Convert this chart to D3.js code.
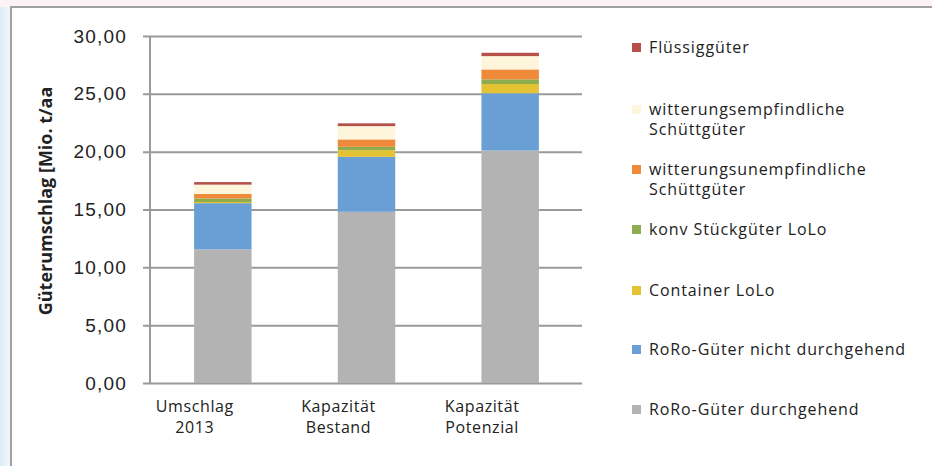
<!DOCTYPE html>
<html>
<head>
<meta charset="utf-8">
<script src="https://cdn.jsdelivr.net/npm/d3@7"></script>
<style>
  html, body { margin: 0; padding: 0; background: #fff; }
  svg { display: block; font-family: "Open Sans", "DejaVu Sans", sans-serif; }
</style>
</head>
<body>
<div id="chart"></div>
<script>
// Kategorien und Werte (Mio. t/aa), von unten nach oben gestapelt
const categories = [['Umschlag', '2013'], ['Kapazität', 'Bestand'], ['Kapazität', 'Potenzial']];
const seriesNames = [
  'RoRo-Güter durchgehend',
  'RoRo-Güter nicht durchgehend',
  'Container LoLo',
  'konv Stückgüter LoLo',
  'witterungsunempfindliche Schüttgüter',
  'witterungsempfindliche Schüttgüter',
  'Flüssiggüter'
];
const roroDurch = [11.55, 14.80, 20.10];
const roroNicht = [4.00, 4.75, 4.95];
const container = [0.10, 0.58, 0.80];
const konv = [0.30, 0.29, 0.40];
const unempf = [0.40, 0.64, 0.86];
const empf = [0.80, 1.15, 1.15];
const fluessig = [0.22, 0.24, 0.29];
const yTicks = [0, 5, 10, 15, 20, 25, 30];
const colors = ['#b3b3b3', '#6a9fd6', '#e3c234', '#8fac4e', '#ee8a3a', '#fdf6dc', '#b5504b'];

const W = 932, H = 466;
const svg = d3.select('#chart').append('svg').attr('width', W).attr('height', H);

// Hintergrund mit Rahmen
const defs = svg.append('defs');
const grad = defs.append('linearGradient').attr('id', 'bg').attr('x1', 0).attr('x2', 1);
grad.append('stop').attr('offset', 0).attr('stop-color', '#dcecf7');
grad.append('stop').attr('offset', 1).attr('stop-color', '#f4f9fd');
svg.append('rect').attr('width', W).attr('height', H).attr('fill', '#fff');
svg.append('rect').attr('width', 11).attr('height', H).attr('fill', 'url(#bg)');
svg.append('rect').attr('width', W).attr('height', 7).attr('fill', '#fdf2f5');
svg.append('line').attr('x1', 10).attr('x2', W).attr('y1', 7).attr('y2', 7)
  .attr('stroke', '#a0a0a0').attr('stroke-width', 2);
svg.append('line').attr('x1', 11).attr('x2', 11).attr('y1', 7).attr('y2', H)
  .attr('stroke', '#a0a0a0').attr('stroke-width', 2);

const x0 = 150, x1 = 582, yTop = 36, yBot = 383;
const x = d3.scaleBand().domain(d3.range(categories.length)).range([x0 + 1, x1]).paddingInner(0.6).paddingOuter(0.3);
const y = d3.scaleLinear().domain([0, 30]).range([yBot, yTop]);

// Gitternetz
const yAxis = d3.axisLeft(y).tickValues(yTicks).tickSize(-(x1 - x0)).tickPadding(23)
  .tickFormat(d => d3.format('.2f')(d).replace('.', ','));
const ga = svg.append('g').attr('transform', `translate(${x0},0)`).call(yAxis);
ga.select('.domain').remove();
ga.selectAll('.tick line').attr('stroke', '#9a9a9a').attr('stroke-width', 2).attr('x1', -7);
ga.selectAll('.tick text').attr('font-size', 19).attr('letter-spacing', '1.2px').attr('fill', '#222');

// Stapel
const table = categories.map((c, i) => ({
  i: i, s0: roroDurch[i], s1: roroNicht[i], s2: container[i], s3: konv[i], s4: unempf[i], s5: empf[i], s6: fluessig[i]
}));
const stack = d3.stack().keys(['s0', 's1', 's2', 's3', 's4', 's5', 's6'])(table);
svg.append('g').selectAll('g').data(stack).join('g')
  .attr('fill', (d, k) => colors[k])
  .selectAll('rect').data(d => d).join('rect')
  .attr('x', d => x(d.data.i))
  .attr('width', x.bandwidth())
  .attr('y', d => y(d[1]))
  .attr('height', d => y(d[0]) - y(d[1]));

// y-Achse
svg.append('line').attr('x1', x0).attr('x2', x0).attr('y1', yTop).attr('y2', yBot)
  .attr('stroke', '#9a9a9a').attr('stroke-width', 2);

// x-Beschriftung (im Original etwas nach links versetzt)
const xl = svg.append('g').selectAll('text').data(categories).join('text')
  .attr('x', (d, i) => x(i) + x.bandwidth() / 2 - 28)
  .attr('y', 412)
  .attr('text-anchor', 'middle').attr('font-size', 16).attr('letter-spacing', '0.6px').attr('fill', '#222');
xl.selectAll('tspan').data(d => d).join('tspan')
  .attr('x', function() { return d3.select(this.parentNode).attr('x'); })
  .attr('dy', (d, j) => j === 0 ? 0 : 21)
  .text(d => d);

// Achsentitel
svg.append('text')
  .attr('transform', 'translate(52,201) rotate(-90)')
  .attr('text-anchor', 'middle').attr('font-size', 18).attr('font-weight', 'bold').attr('fill', '#222')
  .text('Güterumschlag [Mio. t/aa');

// Legende (oben: Flüssiggüter)
const legendItems = [
  { k: 6, lines: ['Flüssiggüter'], y: 48 },
  { k: 5, lines: ['witterungsempfindliche', 'Schüttgüter'], y: 110 },
  { k: 4, lines: ['witterungsunempfindliche', 'Schüttgüter'], y: 170 },
  { k: 3, lines: ['konv Stückgüter LoLo'], y: 230 },
  { k: 2, lines: ['Container LoLo'], y: 291 },
  { k: 1, lines: ['RoRo-Güter nicht durchgehend'], y: 350 },
  { k: 0, lines: ['RoRo-Güter durchgehend'], y: 410 }
];
const lg = svg.append('g').selectAll('g').data(legendItems).join('g')
  .attr('transform', d => `translate(632,${d.y})`);
lg.append('rect').attr('x', 0).attr('y', -5).attr('width', 9).attr('height', 9)
  .attr('fill', d => colors[d.k]);
const lt = lg.append('text').attr('x', 17).attr('y', 5).attr('font-size', 16)
  .attr('letter-spacing', '0.9px').attr('fill', '#222');
lt.selectAll('tspan').data(d => d.lines).join('tspan')
  .attr('x', 17).attr('dy', (d, j) => j === 0 ? 0 : 20).text(d => d);
</script>
</body>
</html>
